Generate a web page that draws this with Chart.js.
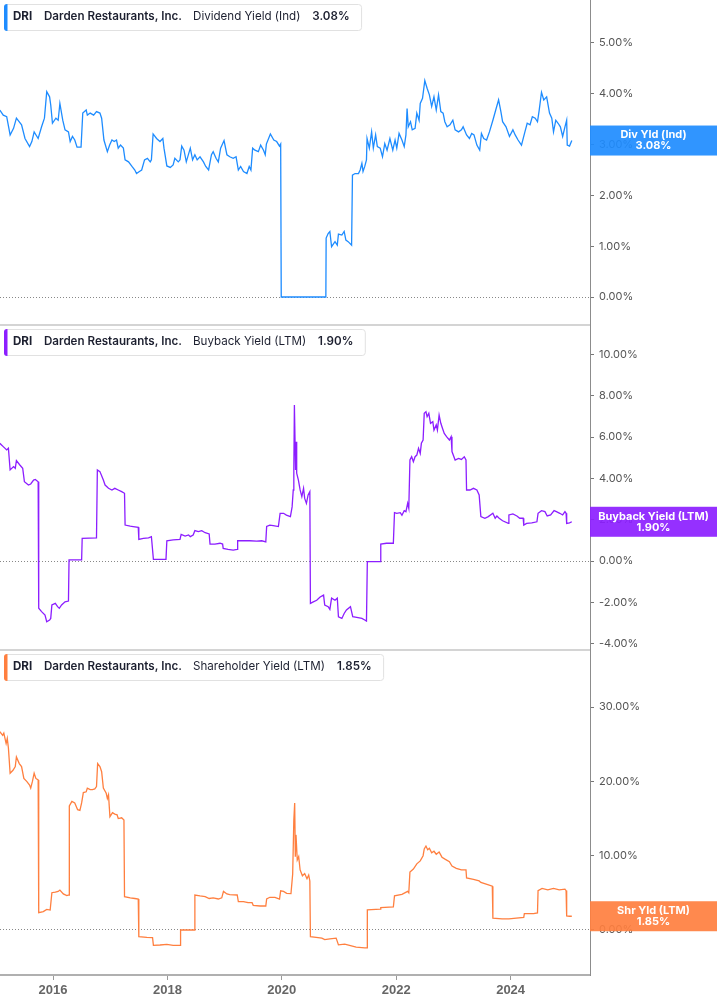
<!DOCTYPE html>
<html><head><meta charset="utf-8">
<script src="https://cdn.jsdelivr.net/npm/chart.js@4.4.1/dist/chart.umd.min.js"></script>
<style>html,body{margin:0;padding:0;background:#fff;}canvas{display:block;}</style>
</head><body>
<canvas id="c" width="717" height="1005"></canvas>
<script>
// ---------- data ----------
const xTicks = [2016, 2018, 2020, 2022, 2024];
const divTicks = [0, 1, 2, 3, 4, 5];
const buyTicks = [-4, -2, 0, 2, 4, 6, 8, 10];
const shrTicks = [0, 10, 20, 30];

const divYears = [2015.07,2015.13,2015.19,2015.25,2015.31,2015.36,2015.45,2015.51,2015.59,2015.63,2015.67,2015.74,2015.80,2015.85,2015.89,2015.94,2015.96,2015.99,2016.05,2016.09,2016.12,2016.17,2016.21,2016.27,2016.30,2016.34,2016.38,2016.42,2016.49,2016.52,2016.58,2016.60,2016.65,2016.71,2016.76,2016.82,2016.85,2016.89,2016.95,2016.99,2017.03,2017.07,2017.11,2017.14,2017.18,2017.23,2017.26,2017.32,2017.38,2017.43,2017.46,2017.51,2017.55,2017.60,2017.65,2017.70,2017.72,2017.75,2017.81,2017.87,2017.92,2017.94,2017.99,2018.05,2018.10,2018.13,2018.19,2018.22,2018.25,2018.29,2018.33,2018.40,2018.44,2018.48,2018.52,2018.57,2018.63,2018.67,2018.72,2018.77,2018.80,2018.85,2018.89,2018.93,2018.99,2019.04,2019.09,2019.15,2019.20,2019.24,2019.28,2019.33,2019.39,2019.43,2019.46,2019.49,2019.53,2019.59,2019.63,2019.68,2019.71,2019.73,2019.80,2019.86,2019.91,2019.96,2019.98,2019.99,2020.77,2020.775,2020.81,2020.84,2020.87,2020.93,2020.97,2020.99,2021.05,2021.09,2021.12,2021.16,2021.22,2021.235,2021.28,2021.34,2021.37,2021.40,2021.42,2021.45,2021.48,2021.49,2021.53,2021.57,2021.60,2021.64,2021.67,2021.72,2021.76,2021.80,2021.84,2021.89,2021.94,2021.98,2022.01,2022.05,2022.10,2022.14,2022.17,2022.19,2022.21,2022.25,2022.28,2022.33,2022.36,2022.40,2022.42,2022.46,2022.50,2022.54,2022.58,2022.62,2022.66,2022.70,2022.74,2022.78,2022.82,2022.85,2022.89,2022.94,2022.99,2023.03,2023.09,2023.14,2023.17,2023.23,2023.28,2023.32,2023.36,2023.41,2023.46,2023.49,2023.53,2023.58,2023.63,2023.69,2023.74,2023.79,2023.83,2023.86,2023.92,2023.98,2024.04,2024.08,2024.13,2024.19,2024.25,2024.29,2024.34,2024.38,2024.43,2024.47,2024.50,2024.54,2024.58,2024.63,2024.68,2024.72,2024.75,2024.79,2024.83,2024.87,2024.91,2024.95,2024.98,2024.99,2025.03,2025.07];
const divValues = [3.68,3.58,3.55,3.19,3.32,3.52,3.39,3.12,2.96,3.06,3.25,3.12,3.35,3.52,4.04,3.94,3.78,3.42,3.52,3.48,3.81,3.48,3.29,3.25,3.06,3.16,3.09,2.95,2.95,3.62,3.68,3.58,3.62,3.58,3.65,3.62,3.52,3.09,2.86,2.99,3.09,3.06,3.09,2.93,2.99,2.93,2.70,2.66,2.57,2.50,2.43,2.47,2.50,2.70,2.73,2.66,2.70,3.21,3.12,3.06,3.12,2.93,2.58,2.55,2.60,2.73,2.66,2.70,2.97,2.89,2.66,2.93,2.70,2.80,2.70,2.76,2.66,2.57,2.50,2.80,2.86,2.73,2.66,2.93,3.08,2.80,2.76,2.73,2.76,2.50,2.57,2.47,2.43,2.57,2.50,2.93,2.89,2.86,2.99,2.89,2.80,3.01,3.21,3.09,3.06,2.97,3.01,0,0,1.16,1.25,1.29,0.99,1.09,1.02,1.24,1.22,1.29,1.12,1.09,1.02,2.40,2.43,2.43,2.50,2.63,2.47,2.57,2.70,3.12,2.93,3.25,2.93,3.19,2.96,2.93,2.76,3.02,2.89,3.12,2.89,3.09,2.93,3.22,3.09,2.96,3.19,3.71,3.35,3.45,3.29,3.32,3.62,3.48,3.81,3.91,4.26,4.11,3.98,3.75,3.94,3.68,3.98,3.65,3.62,3.45,3.35,3.39,3.48,3.29,3.25,3.29,3.35,3.19,3.12,3.22,3.19,2.99,2.89,3.22,3.12,3.09,3.25,3.48,3.68,3.88,3.65,3.45,3.35,3.16,3.29,3.19,3.09,2.99,3.25,3.42,3.39,3.55,3.52,3.45,3.68,4.03,3.88,3.94,3.62,3.52,3.25,3.48,3.42,3.35,3.16,3.35,3.48,2.99,2.97,3.08];

const buyYears = [2015.07,2015.13,2015.19,2015.22,2015.25,2015.31,2015.34,2015.36,2015.42,2015.47,2015.50,2015.57,2015.61,2015.66,2015.69,2015.74,2015.75,2015.80,2015.86,2015.89,2015.94,2015.96,2015.98,2016.04,2016.08,2016.11,2016.15,2016.21,2016.27,2016.28,2016.50,2016.51,2016.76,2016.775,2016.82,2016.88,2016.91,2016.97,2017.03,2017.08,2017.14,2017.20,2017.25,2017.26,2017.35,2017.40,2017.49,2017.50,2017.58,2017.67,2017.72,2017.755,2017.975,2017.99,2018.10,2018.22,2018.24,2018.31,2018.37,2018.40,2018.45,2018.48,2018.54,2018.60,2018.66,2018.73,2018.745,2018.83,2018.92,2018.965,2018.975,2019.06,2019.15,2019.22,2019.228,2019.33,2019.44,2019.56,2019.65,2019.72,2019.735,2019.79,2019.85,2019.94,2019.97,2020.03,2020.08,2020.15,2020.18,2020.20,2020.21,2020.22,2020.24,2020.25,2020.26,2020.29,2020.32,2020.35,2020.38,2020.40,2020.43,2020.46,2020.49,2020.50,2020.55,2020.61,2020.67,2020.73,2020.75,2020.81,2020.84,2020.87,2020.93,2020.97,2020.99,2021.05,2021.09,2021.13,2021.20,2021.24,2021.31,2021.40,2021.45,2021.48,2021.495,2021.72,2021.73,2021.83,2021.95,2021.97,2022.01,2022.07,2022.10,2022.14,2022.17,2022.20,2022.22,2022.24,2022.27,2022.30,2022.33,2022.36,2022.39,2022.42,2022.44,2022.47,2022.49,2022.52,2022.54,2022.57,2022.60,2022.64,2022.66,2022.70,2022.72,2022.75,2022.78,2022.81,2022.84,2022.88,2022.93,2022.96,2022.975,2023.03,2023.09,2023.14,2023.19,2023.22,2023.23,2023.29,2023.35,2023.41,2023.45,2023.48,2023.55,2023.61,2023.69,2023.73,2023.76,2023.80,2023.86,2023.96,2023.97,2024.04,2024.11,2024.16,2024.22,2024.23,2024.28,2024.37,2024.46,2024.48,2024.54,2024.60,2024.64,2024.70,2024.76,2024.80,2024.86,2024.91,2024.95,2024.97,2024.98,2025.03,2025.07];
const buyValues = [5.70,5.54,5.38,5.46,4.41,4.57,4.49,4.86,4.65,4.49,3.84,3.68,3.73,3.92,3.95,3.84,-2.29,-2.45,-2.62,-2.94,-2.86,-2.78,-2.13,-2.05,-2.21,-2.29,-2.13,-1.98,-1.94,0.05,0.05,1.10,1.12,4.41,4.33,3.92,3.68,3.52,3.44,3.52,3.44,3.36,3.28,1.74,1.69,1.67,1.63,1.05,1.10,1.12,1.18,0.08,0.08,0.98,1.02,1.05,1.29,1.21,1.26,1.18,1.26,1.47,1.42,1.47,1.37,1.31,0.82,0.82,0.86,0.82,0.61,0.56,0.53,0.56,0.98,0.98,0.98,0.96,0.98,0.93,1.67,1.74,1.71,1.67,2.31,2.31,2.22,2.15,2.62,3.44,4.41,7.55,4.41,5.78,4.25,3.92,3.44,3.12,3.52,3.03,2.79,3.20,3.36,-2.05,-1.98,-1.90,-1.74,-1.65,-2.13,-2.21,-2.34,-1.80,-1.90,-1.80,-2.70,-2.78,-2.54,-2.37,-2.21,-2.70,-2.73,-2.78,-2.86,-2.91,-0.03,-0.03,0.82,0.86,0.86,2.34,2.31,2.34,2.22,2.44,2.39,2.79,2.55,4.89,5.05,4.81,5.05,5.13,5.46,5.21,5.70,5.86,7.15,7.23,6.99,7.15,6.67,6.75,6.34,6.59,6.34,7.07,6.67,6.42,6.18,6.02,5.86,6.02,5.30,4.89,4.97,4.92,5.05,4.89,3.44,3.44,3.52,3.44,3.20,2.15,2.07,2.15,2.31,2.07,2.18,2.07,1.95,1.82,2.23,2.28,2.18,2.07,2.07,1.74,1.82,1.85,1.90,2.31,2.44,2.39,2.18,2.23,2.44,2.39,2.31,2.23,2.39,2.31,1.82,1.85,1.90];

const shrYears = [2015.07,2015.12,2015.14,2015.18,2015.20,2015.22,2015.25,2015.30,2015.34,2015.36,2015.41,2015.45,2015.49,2015.54,2015.59,2015.61,2015.64,2015.67,2015.70,2015.74,2015.75,2015.83,2015.89,2015.95,2015.98,2016.04,2016.09,2016.12,2016.18,2016.24,2016.28,2016.285,2016.33,2016.38,2016.43,2016.47,2016.50,2016.53,2016.58,2016.60,2016.65,2016.69,2016.73,2016.76,2016.78,2016.82,2016.85,2016.88,2016.93,2016.95,2016.97,2016.995,2017.04,2017.08,2017.12,2017.14,2017.20,2017.24,2017.25,2017.35,2017.43,2017.49,2017.50,2017.64,2017.74,2017.755,2017.87,2017.99,2018.10,2018.22,2018.23,2018.47,2018.48,2018.57,2018.66,2018.73,2018.80,2018.89,2018.95,2018.98,2019.04,2019.09,2019.22,2019.24,2019.33,2019.41,2019.48,2019.50,2019.62,2019.72,2019.735,2019.79,2019.88,2019.96,2019.98,2020.03,2020.085,2020.16,2020.19,2020.21,2020.225,2020.236,2020.248,2020.27,2020.295,2020.32,2020.36,2020.40,2020.44,2020.47,2020.49,2020.50,2020.60,2020.70,2020.75,2020.84,2020.95,2020.99,2021.10,2021.20,2021.30,2021.45,2021.49,2021.495,2021.72,2021.73,2021.95,2021.97,2022.10,2022.20,2022.22,2022.24,2022.30,2022.36,2022.42,2022.47,2022.49,2022.52,2022.55,2022.58,2022.62,2022.66,2022.70,2022.75,2022.80,2022.86,2022.93,2022.975,2023.05,2023.14,2023.22,2023.23,2023.35,2023.45,2023.48,2023.60,2023.68,2023.69,2023.85,2023.97,2024.10,2024.23,2024.24,2024.40,2024.47,2024.48,2024.55,2024.65,2024.75,2024.85,2024.95,2024.97,2024.98,2025.03,2025.07];
const shrValues = [26.7,26.2,26.5,25.1,25.8,24.5,21.1,21.5,22.0,23.3,22.4,22.0,20.4,20.0,19.5,19.1,20.0,21.1,20.4,20.2,2.33,2.47,2.77,2.68,5.02,5.10,5.19,5.37,4.85,4.62,4.71,16.7,17.3,17.1,16.2,16.1,17.1,18.5,18.6,19.1,18.9,18.9,19.0,19.3,22.4,22.0,21.3,19.1,18.4,17.7,18.2,15.25,15.8,15.6,15.5,15.0,15.1,14.8,4.49,4.33,4.24,4.17,-0.90,-0.99,-1.03,-2.06,-2.02,-1.93,-2.06,-2.06,0.0,0.0,4.71,4.58,4.49,4.24,4.33,4.17,4.33,5.19,4.85,4.76,4.71,3.81,3.81,3.68,3.68,3.32,3.23,3.23,4.17,4.40,4.40,4.17,5.28,5.19,4.94,4.89,7.54,14.8,17.1,9.87,12.8,9.42,9.87,8.08,7.3,7.6,6.9,7.4,6.6,-0.9,-1.0,-1.1,-1.3,-1.2,-1.1,-2.0,-1.9,-2.1,-2.3,-2.4,-2.4,2.7,2.8,3.0,3.1,4.6,4.8,5.2,5.0,7.8,8.2,8.9,9.3,10.0,10.9,11.3,10.8,11.0,10.4,10.6,10.2,10.5,9.8,9.5,9.2,8.6,8.3,8.1,8.1,7.0,6.8,6.6,6.4,6.1,5.9,1.6,1.5,1.5,1.6,1.7,2.2,2.2,2.3,5.3,5.6,5.4,5.6,5.4,5.5,5.3,1.9,1.85,1.85];

// ---------- chart ----------
const COL_DIV = '#1e8cff', COL_BUY = '#8c1eff', COL_SHR = '#ff7f3f';
const toPts = (xs, ys) => xs.map((x, i) => ({x: x, y: ys[i]}));
const pct = v => v.toFixed(2) + '%';

const panels = [
  {axis: 'yDiv', color: COL_DIV, name: 'Dividend Yield (Ind)', tag: 'Div Yld (Ind)', values: divValues},
  {axis: 'yBuy', color: COL_BUY, name: 'Buyback Yield (LTM)', tag: 'Buyback Yield (LTM)', values: buyValues},
  {axis: 'yShr', color: COL_SHR, name: 'Shareholder Yield (LTM)', tag: 'Shr Yld (LTM)', values: shrValues}
];

function yAxis(min, max, ticks) {
  return {
    type: 'linear', position: 'right', stack: 'panels', stackWeight: 1,
    min: min, max: max,
    afterBuildTicks: s => { s.ticks = ticks.map(v => ({value: v})); },
    afterFit: s => { s.width = 127; s.paddingTop = 0; s.paddingBottom = 0; },
    ticks: {color: '#555', font: {family: 'Inter', size: 11}, padding: 5, callback: v => pct(v)},
    grid: {
      drawOnChartArea: true, drawTicks: true, tickLength: 4,
      color: c => (c.tick && c.tick.value === 0) ? '#888' : 'rgba(0,0,0,0)',
      tickColor: '#777', lineWidth: 1
    },
    border: {display: true, color: '#8c8c8c', width: 1, dash: [1, 2]}
  };
}

const overlay = {
  id: 'overlay',
  afterDraw(chart) {
    const ctx = chart.ctx, area = chart.chartArea;
    ctx.save();
    // panel separators
    ctx.strokeStyle = '#c6c6c6'; ctx.lineWidth = 1.5;
    ['yDiv', 'yBuy'].forEach(id => {
      const s = chart.scales[id];
      ctx.beginPath(); ctx.moveTo(0, s.bottom); ctx.lineTo(area.right, s.bottom); ctx.stroke();
    });
    panels.forEach(p => {
      const s = chart.scales[p.axis];
      const last = p.values[p.values.length - 1];
      const valTxt = pct(last);
      // legend box
      const top = s.top + 4, h = 26, cy = top + 13;
      const fB = '700 11.6px Inter', fS = '600 11.6px Inter', fN = '400 11.6px Inter';
      ctx.font = fB; const x1 = 13, w1 = ctx.measureText('DRI').width;
      ctx.font = fS; const x2 = Math.max(44, x1 + w1 + 11), w2 = ctx.measureText('Darden Restaurants, Inc.').width;
      ctx.font = fN; const x3 = Math.max(193, x2 + w2 + 11), w3 = ctx.measureText(p.name).width;
      ctx.font = fS; const x4 = x3 + w3 + 12, w4 = ctx.measureText(valTxt).width;
      const right = x4 + w4 + 12;
      ctx.beginPath(); ctx.roundRect(4.5, top + 0.5, right - 4.5, h, 3);
      ctx.fillStyle = '#ffffff'; ctx.fill();
      ctx.strokeStyle = '#e1e1e1'; ctx.lineWidth = 1; ctx.stroke();
      ctx.beginPath(); ctx.roundRect(4, top, 3.5, h + 1, [3, 0, 0, 3]);
      ctx.fillStyle = p.color; ctx.fill();
      ctx.fillStyle = '#1d2030'; ctx.textBaseline = 'middle'; ctx.textAlign = 'left';
      ctx.font = fB; ctx.fillText('DRI', x1, cy);
      ctx.font = fS; ctx.fillText('Darden Restaurants, Inc.', x2, cy);
      ctx.font = fN; ctx.fillText(p.name, x3, cy);
      ctx.font = fS; ctx.fillText(valTxt, x4, cy);
      // last-value tag on the axis
      const py = s.getPixelForValue(last);
      ctx.globalAlpha = 0.92;
      ctx.fillStyle = p.color;
      ctx.fillRect(area.right, py - 15, chart.width - area.right, 30);
      ctx.globalAlpha = 1;
      ctx.fillStyle = '#ffffff'; ctx.textAlign = 'center'; ctx.font = '700 11px Inter';
      const cx = (area.right + chart.width) / 2;
      ctx.fillText(p.tag, cx, py - 5.5);
      ctx.fillText(valTxt, cx, py + 5.5);
    });
    ctx.restore();
  }
};

const lineDs = (label, pts, color, axis) => ({
  label: label, data: pts, yAxisID: axis, xAxisID: 'x',
  borderColor: color, borderWidth: 1.3, pointRadius: 0, tension: 0, fill: false
});

new Chart(document.getElementById('c'), {
  type: 'line',
  data: {
    datasets: [
      lineDs('Dividend Yield (Ind)', toPts(divYears, divValues), COL_DIV, 'yDiv'),
      lineDs('Buyback Yield (LTM)', toPts(buyYears, buyValues), COL_BUY, 'yBuy'),
      lineDs('Shareholder Yield (LTM)', toPts(shrYears, shrValues), COL_SHR, 'yShr')
    ]
  },
  options: {
    responsive: false, animation: false, devicePixelRatio: 1,
    layout: {padding: 0},
    plugins: {legend: {display: false}, tooltip: {enabled: false}},
    scales: {
      x: {
        type: 'linear', position: 'bottom', min: 2015.073, max: 2025.388,
        afterBuildTicks: s => { s.ticks = xTicks.map(v => ({value: v})); },
        afterFit: s => { s.height = 30; s.paddingLeft = 0; s.paddingRight = 0; },
        ticks: {color: '#666', font: {family: 'Liberation Sans', size: 13, weight: 'bold'}, padding: 3, maxRotation: 0, autoSkip: false, callback: v => String(v)},
        grid: {drawOnChartArea: false, drawTicks: true, tickLength: 5, tickColor: '#999'},
        border: {display: true, color: '#b0b0b0', width: 2}
      },
      yDiv: yAxis(-0.551, 5.846, divTicks),
      yBuy: yAxis(-4.31, 11.43, buyTicks),
      yShr: yAxis(-6.06, 37.69, shrTicks)
    }
  },
  plugins: [overlay]
});
</script>
</body></html>
